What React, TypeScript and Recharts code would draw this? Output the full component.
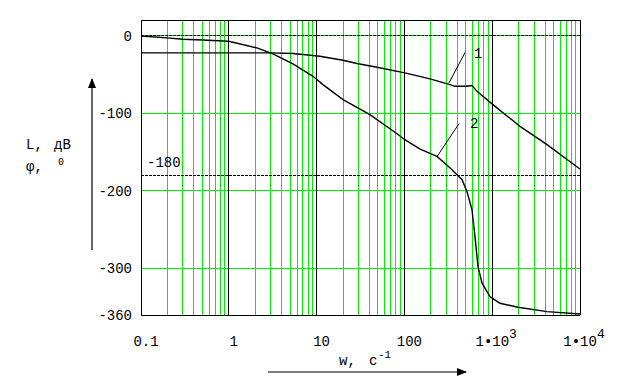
import React from 'react';
import { LineChart, Line, XAxis, YAxis, ReferenceLine } from 'recharts';

// Curve 1: amplitude L(w), dB
const freqL = [0.1, 1, 3, 5.4, 10.9, 20, 28.8, 48.7, 101, 196, 331, 377, 500, 589, 671, 1020, 2073, 4210, 10000];
const valL = [-22.3, -22.3, -22.4, -23.2, -26.7, -31.9, -36.1, -40.9, -48.1, -55.9, -63.2, -65.4, -65.4, -64.5, -71.9, -89, -117, -140.6, -172];

// Curve 2: phase phi(w), degrees
const freqP = [0.1, 0.198, 0.3, 0.5, 1.0, 2.09, 3.18, 5.38, 9.1, 11.8, 20, 40.5, 82.4, 101, 151, 235, 330, 397, 453, 516, 589, 637, 689, 765, 944, 1227, 1968, 4210, 10000];
const valP = [-0.6, -3, -4.8, -5.8, -7.4, -15.9, -23.6, -36.5, -52.5, -63.2, -82.6, -101.9, -126.5, -134.2, -146.2, -155.7, -170.3, -179.4, -185.8, -200.9, -224.5, -259, -297.7, -318.7, -336.4, -344.9, -350, -355.7, -358.7];

const xTicks = [0.1, 1, 10, 100, 1000, 10000];
const yTicks = [0, -100, -200, -300, -360];
const greenY = [0, -100, -200, -300];
const dottedY = [0, -180];

const dataL = freqL.map((w, i) => ({ w, v: valL[i] }));
const dataP = freqP.map((w, i) => ({ w, v: valP[i] }));

const minorX: number[] = [];
for (let d = 0; d < 5; d++) {
  for (let k = 2; k <= 9; k++) minorX.push(xTicks[d] * k);
}

const FONT = '"Liberation Mono", "DejaVu Sans Mono", monospace';
const GREEN = '#00f000';

const XTick = (props: any) => {
  const { x, y, payload } = props;
  const v = payload.value;
  if (v >= 1000) {
    const e = Math.round(Math.log10(v));
    return (
      <text x={x + 4} y={y + 31} textAnchor="middle" fontFamily={FONT} fontSize={14} fill="#000">
        1•10<tspan dy={-8} fontSize={13}>{e}</tspan>
      </text>
    );
  }
  return (
    <text x={x + 5} y={y + 31} textAnchor="middle" fontFamily={FONT} fontSize={14} fill="#000">
      {String(v)}
    </text>
  );
};

const YTick = (props: any) => {
  const { x, y, payload } = props;
  return (
    <text x={x - 9} y={y} dy="0.36em" textAnchor="end" fontFamily={FONT} fontSize={14} fill="#000">
      {String(payload.value)}
    </text>
  );
};

const Label180 = (props: any) => {
  const vb = props.viewBox || {};
  return (
    <text x={(vb.x || 0) + 6} y={(vb.y || 0) - 8} fontFamily={FONT} fontSize={14} fill="#000">
      -180
    </text>
  );
};

export default function App() {
  return (
    <div style={{ position: 'absolute', left: 0, top: 0, width: 622, height: 378, background: '#fff' }}>
      <LineChart width={622} height={378} margin={{ top: 20, right: 42, bottom: 0, left: 0 }}>
        <XAxis
          type="number"
          dataKey="w"
          scale="log"
          domain={[0.1, 10000]}
          ticks={xTicks}
          allowDataOverflow
          axisLine={false}
          tickLine={false}
          tickSize={0}
          tickMargin={0}
          height={63}
          tick={<XTick />}
          interval={0}
        />
        <YAxis
          type="number"
          domain={[-360, 20]}
          ticks={yTicks}
          allowDataOverflow
          axisLine={false}
          tickLine={false}
          tickSize={0}
          tickMargin={0}
          width={141}
          tick={<YTick />}
          interval={0}
        />
        {minorX.map((m) => (
          <ReferenceLine key={'gx' + m} x={m} stroke={GREEN} strokeWidth={1} shapeRendering="crispEdges" />
        ))}
        {greenY.map((g) => (
          <ReferenceLine key={'gy' + g} y={g} stroke={GREEN} strokeWidth={1} shapeRendering="crispEdges" />
        ))}
        {xTicks.map((t) => (
          <ReferenceLine key={'bx' + t} x={t} stroke="#000" strokeWidth={1} shapeRendering="crispEdges" />
        ))}
        <ReferenceLine y={20} stroke="#000" strokeWidth={1} shapeRendering="crispEdges" />
        <ReferenceLine y={-360} stroke="#000" strokeWidth={1} shapeRendering="crispEdges" />
        <ReferenceLine y={dottedY[0]} stroke="#000" strokeWidth={1} strokeDasharray="3 1" shapeRendering="crispEdges" />
        <ReferenceLine y={dottedY[1]} stroke="#000" strokeWidth={1} strokeDasharray="3 1" shapeRendering="crispEdges" label={<Label180 />} />
        <ReferenceLine segment={[{ x: 490, y: -22 }, { x: 322, y: -61 }]} stroke="#000" strokeWidth={1} />
        <ReferenceLine segment={[{ x: 419, y: -113.5 }, { x: 235, y: -156 }]} stroke="#000" strokeWidth={1} />
        <Line data={dataL} dataKey="v" type="linear" stroke="#000" strokeWidth={1.4} dot={false} isAnimationActive={false} />
        <Line data={dataP} dataKey="v" type="linear" stroke="#000" strokeWidth={1.4} dot={false} isAnimationActive={false} />
      </LineChart>
      <svg width={622} height={378} style={{ position: 'absolute', left: 0, top: 0, pointerEvents: 'none' }}>
        <defs>
          <marker id="arr" markerWidth="10" markerHeight="10" refX="9" refY="5" orient="auto" markerUnits="userSpaceOnUse">
            <path d="M0,1 L10,5 L0,9 Z" fill="#000" />
          </marker>
        </defs>
        <line x1={92} y1={250} x2={92} y2={79} stroke="#000" strokeWidth={1.2} markerEnd="url(#arr)" />
        <line x1={268} y1={372} x2={466} y2={372} stroke="#000" strokeWidth={1.2} markerEnd="url(#arr)" />
        <text x={26} y={149} fontFamily={FONT} fontSize={14} fill="#000">L,</text>
        <text x={54} y={149} fontFamily={FONT} fontSize={14} fill="#000">дВ</text>
        <text x={26} y={171} fontFamily={FONT} fontSize={14} fill="#000">φ,</text>
        <text x={58} y={165} fontFamily={FONT} fontSize={10} fill="#000">0</text>
        <text x={339} y={365} fontFamily={FONT} fontSize={14} fill="#000">w,</text>
        <text x={369} y={365} fontFamily={FONT} fontSize={14} fill="#000">c</text>
        <text x={378} y={358} fontFamily={FONT} fontSize={11} fill="#000">-1</text>
        <text x={474} y={58} fontFamily={FONT} fontSize={14} fill="#000">1</text>
        <text x={470} y={128} fontFamily={FONT} fontSize={14} fill="#000">2</text>
      </svg>
    </div>
  );
}
